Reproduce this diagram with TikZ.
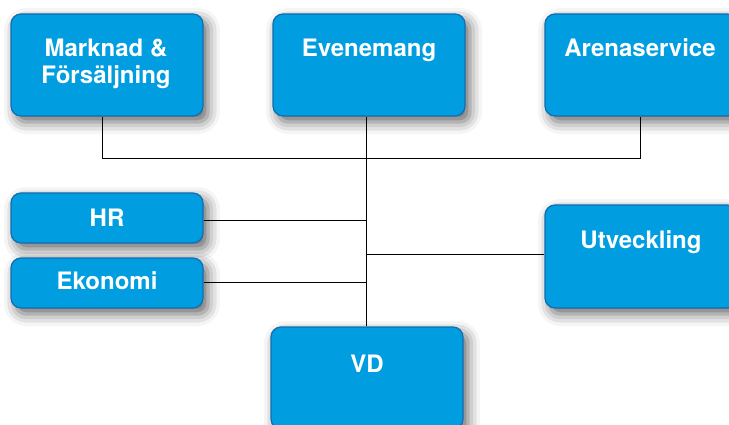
\documentclass[tikz,border=0pt]{standalone}
\usepackage{fontspec}
\setmainfont{TeX Gyre Heros}
\usetikzlibrary{shadows.blur}
\definecolor{boxblue}{RGB}{0,158,224}
\definecolor{boxedge}{RGB}{18,108,176}
\tikzset{
  orgbox/.style={draw=boxedge, line width=1.2pt, fill=boxblue, rounded corners=10pt,
    inner sep=0pt, minimum width=192pt,
    blur shadow={shadow xshift=5pt, shadow yshift=-6pt, shadow blur radius=12pt, shadow opacity=60}},
  lbl/.style={text=white, font=\fontsize{24}{27}\selectfont\bfseries, anchor=base, inner sep=0pt},
  conn/.style={draw=black, line width=1pt}
}
\begin{document}
\begin{tikzpicture}[x=1pt,y=-1pt]
\useasboundingbox (0,0) rectangle (729,425);
\clip (0,0) rectangle (729,425);
% boxes
\node[orgbox, minimum height=102pt] (mf) at (107,65) {};
\node[orgbox, minimum height=102pt] (ev) at (369,65) {};
\node[orgbox, minimum height=102pt] (ar) at (641,65) {};
\node[orgbox, minimum height=50pt] (hr) at (107,218) {};
\node[orgbox, minimum height=50pt] (ek) at (107,283) {};
\node[orgbox, minimum height=103pt] (ut) at (641,256.5) {};
\node[orgbox, minimum height=102pt] (vd) at (367,378) {};
% labels
\node[lbl] (mf1) at (106,56.5) {Marknad \&};
\node[lbl] (mf2) at (106,83.5) {Försäljning};
\node[lbl] (evl) at (369,56.5) {Evenemang};
\node[lbl] (arl) at (640,56.5) {Arenaservice};
\node[lbl] (hrl) at (107,226) {HR};
\node[lbl] (ekl) at (107,289.5) {Ekonomi};
\node[lbl] (utl) at (641,248.5) {Utveckling};
\node[lbl] (vdl) at (367,372) {VD};
% connectors
\coordinate (jl) at (102,158.5);
\coordinate (jm) at (366,158.5);
\coordinate (jr) at (640,158.5);
\coordinate (jhr) at (366,221);
\coordinate (jut) at (366,254.5);
\coordinate (jek) at (366,282.5);
\draw[conn] (mf.south -| jl) -- (jl) -- (jr) -- (ar.south -| jr);
\draw[conn] (ev.south -| jm) -- (vd.north -| jm);
\draw[conn] (hr.east |- jhr) -- (jhr);
\draw[conn] (ek.east |- jek) -- (jek);
\draw[conn] (jut) -- (ut.west |- jut);
\end{tikzpicture}
\end{document}
